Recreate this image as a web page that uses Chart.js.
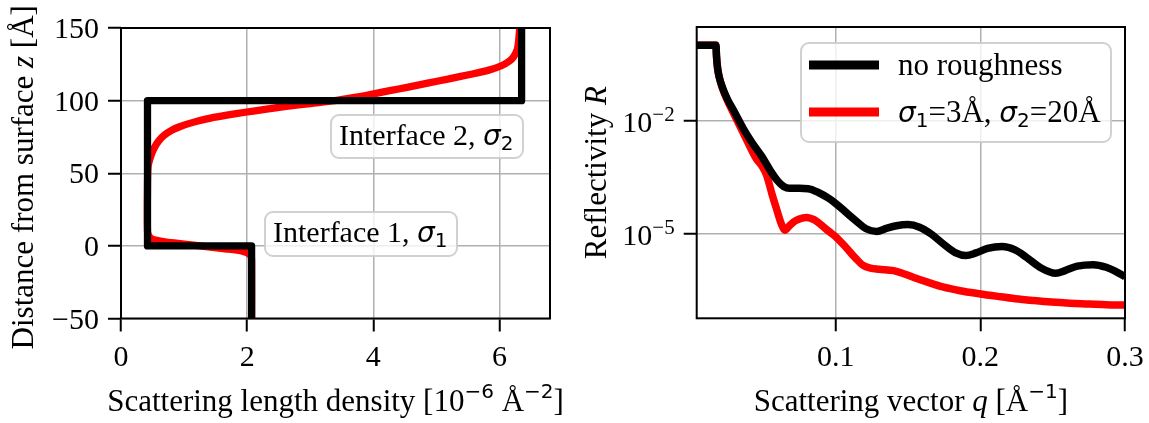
<!DOCTYPE html>
<html>
<head>
<meta charset="utf-8">
<script src="https://cdn.jsdelivr.net/npm/chart.js@4.4.1/dist/chart.umd.min.js"></script>
<style>
  body { margin: 0; background: #fff; }
  canvas { position: absolute; top: 0; }
  #left { left: 0; }
  #right { left: 575px; }
</style>
</head>
<body>
<canvas id="left" width="575" height="423"></canvas>
<canvas id="right" width="574" height="423"></canvas>
<script>
// ---- data: SLD profile (left panel) ----
const boxZ = [-50, 0, 0, 100, 100, 150];
const boxSld = [2.07, 2.07, 0.42, 0.42, 6.35, 6.35];

const roughZ = [-50, -10, -7, -5, -4, -3, -2, -1, 0, 1, 2, 3, 4, 5, 7, 10, 40, 55, 60, 65, 70, 74, 77, 80, 82, 84, 86, 88, 90, 92, 94, 96, 98, 100,
  102, 104, 106, 108, 110, 112, 115, 118, 121, 124, 127, 130, 135, 140, 150];
const roughSld = [2.07, 2.07, 2.06, 2.01, 1.95, 1.84, 1.65, 1.45, 1.25, 1.04, 0.84, 0.67, 0.55, 0.48, 0.44, 0.42, 0.42, 0.43, 0.46, 0.5, 0.56, 0.63, 0.71, 0.82, 0.93, 1.06, 1.22, 1.42, 1.68, 1.97, 2.28, 2.62, 3.0, 3.39,
  3.68, 3.93, 4.16, 4.4, 4.63, 4.86, 5.2, 5.53, 5.83, 6.03, 6.15, 6.22, 6.28, 6.3, 6.32];

// ---- data: reflectivity (right panel), values read as log10(R) ----
const qNoRough = [0.0039, 0.0172, 0.0176, 0.0183, 0.0195, 0.0215, 0.025, 0.030, 0.036, 0.042, 0.049, 0.055, 0.060, 0.064, 0.068, 0.075, 0.081, 0.088, 0.095, 0.100,
  0.107, 0.114, 0.121, 0.1284, 0.135, 0.142, 0.150, 0.158, 0.166, 0.175, 0.183, 0.190, 0.197, 0.205, 0.215, 0.224, 0.232, 0.242, 0.252, 0.259, 0.267, 0.278, 0.287, 0.294, 0.300];
const logRNoRough = [0, 0, -0.3, -0.6, -0.85, -1.1, -1.42, -1.77, -2.2, -2.57, -2.95, -3.33, -3.6, -3.74, -3.79, -3.79, -3.8, -3.9, -4.05, -4.19,
  -4.42, -4.65, -4.86, -4.93, -4.85, -4.78, -4.75, -4.82, -5.0, -5.28, -5.5, -5.57, -5.5, -5.38, -5.33, -5.42, -5.62, -5.9, -6.04, -5.96, -5.85, -5.81, -5.88, -6.0, -6.13];

const qRough = [0.0039, 0.0172, 0.0176, 0.0183, 0.0195, 0.0215, 0.025, 0.030, 0.0385, 0.045, 0.049, 0.0523, 0.056, 0.0592, 0.0627, 0.065, 0.068, 0.072, 0.0775, 0.080, 0.085, 0.090, 0.095, 0.100,
  0.107, 0.114, 0.119, 0.124, 0.130, 0.140, 0.147, 0.154, 0.164, 0.174, 0.186, 0.199, 0.212, 0.224, 0.237, 0.249, 0.262, 0.275, 0.287, 0.300];
const logRRough = [0, 0, -0.3, -0.6, -0.85, -1.12, -1.45, -1.85, -2.51, -3.0, -3.2, -3.45, -3.95, -4.35, -4.76, -4.9, -4.78, -4.65, -4.57, -4.56, -4.62, -4.76, -4.92, -5.07,
  -5.35, -5.65, -5.83, -5.9, -5.93, -5.97, -6.05, -6.15, -6.28, -6.4, -6.5, -6.58, -6.65, -6.71, -6.76, -6.8, -6.83, -6.85, -6.87, -6.88];

// ---- ticks ----
const sldTicks = [0, 2, 4, 6];
const zTicks = [-50, 0, 50, 100, 150];
const qTicks = [0.1, 0.2, 0.3];
const rTickExp = [-2, -5];

const SERIF = '"Liberation Serif", "DejaVu Serif", serif';
const F = '31px ' + SERIF;       // titles / legend
const FI = 'italic 31px ' + SERIF;
const FT = '30px ' + SERIF;      // tick labels / annotations
const FSUP = '21px ' + SERIF;
const SANS_SUP = '20px "DejaVu Sans"';
const SIGMA = 'italic 28px "DejaVu Sans"';

function rich(ctx, segs, x, y, align) {
  let w = 0;
  segs.forEach(s => { ctx.font = s[1]; w += ctx.measureText(s[0]).width; });
  let cx = align === 'center' ? x - w / 2 : (align === 'right' ? x - w : x);
  ctx.textAlign = 'left';
  ctx.textBaseline = 'alphabetic';
  segs.forEach(s => {
    ctx.font = s[1];
    ctx.fillText(s[0], cx, y + (s[2] || 0));
    cx += ctx.measureText(s[0]).width;
  });
  return w;
}

function roundBox(ctx, x, y, w, h, r) {
  ctx.beginPath();
  ctx.roundRect(x, y, w, h, r);
  ctx.fillStyle = 'rgba(255,255,255,0.8)';
  ctx.fill();
  ctx.strokeStyle = 'rgba(204,204,204,0.9)';
  ctx.lineWidth = 2;
  ctx.stroke();
}

function frame(ctx, a) {
  ctx.strokeStyle = '#000';
  ctx.lineWidth = 2;
  ctx.strokeRect(a.left, a.top, a.right - a.left, a.bottom - a.top);
}

const gridOpts = { color: '#b0b0b0', lineWidth: 1.5, tickLength: 13, tickColor: '#000', tickWidth: 2 };

// left panel decorations
const leftDeco = {
  id: 'leftDeco',
  afterDraw(chart) {
    const ctx = chart.ctx, a = chart.chartArea;
    const sx = chart.scales.x, sy = chart.scales.y;
    ctx.save();
    frame(ctx, a);
    ctx.fillStyle = '#000';
    sldTicks.forEach(v => rich(ctx, [[String(v), FT]], sx.getPixelForValue(v), 366, 'center'));
    zTicks.forEach(v => rich(ctx, [[String(v).replace('-', '\u2212'), FT]], a.left - 22, sy.getPixelForValue(v) + 10, 'right'));

    rich(ctx, [['Scattering length density [10', F], ['\u22126', SANS_SUP, -13], [' \u00c5', F], ['\u22122', SANS_SUP, -13], [']', F]],
      (a.left + a.right) / 2, 411, 'center');
    ctx.save();
    ctx.translate(33, (a.top + a.bottom) / 2 + 4);
    ctx.rotate(-Math.PI / 2);
    ctx.fillStyle = '#000';
    rich(ctx, [['Distance from surface ', F], ['z', FI], [' [\u00c5]', F]], 0, 0, 'center');
    ctx.restore();

    roundBox(ctx, 331, 115, 192, 43, 8);
    ctx.fillStyle = '#000';
    rich(ctx, [['Interface 2, ', FT], ['\u03c3', SIGMA], ['2', SANS_SUP, 5]], 339, 145, 'left');
    roundBox(ctx, 265, 212, 192, 44, 8);
    ctx.fillStyle = '#000';
    rich(ctx, [['Interface 1, ', FT], ['\u03c3', SIGMA], ['1', SANS_SUP, 5]], 273, 242, 'left');
    ctx.restore();
  }
};

// right panel decorations
const rightDeco = {
  id: 'rightDeco',
  afterDraw(chart) {
    const ctx = chart.ctx, a = chart.chartArea;
    const sx = chart.scales.x, sy = chart.scales.y;
    ctx.save();
    frame(ctx, a);
    ctx.fillStyle = '#000';
    qTicks.forEach(v => rich(ctx, [[String(v), FT]], sx.getPixelForValue(v), 366, 'center'));
    rTickExp.forEach(e => rich(ctx, [['10', FT], ['\u2212' + Math.abs(e), FSUP, -11]], a.left - 22, sy.getPixelForValue(Math.pow(10, e)) + 11, 'right'));

    rich(ctx, [['Scattering vector ', F], ['q', FI], [' [\u00c5', F], ['\u22121', SANS_SUP, -13], [']', F]],
      (a.left + a.right) / 2, 411, 'center');
    ctx.save();
    ctx.translate(31, (a.top + a.bottom) / 2);
    ctx.rotate(-Math.PI / 2);
    ctx.fillStyle = '#000';
    rich(ctx, [['Reflectivity ', F], ['R', FI]], 0, 0, 'center');
    ctx.restore();

    // legend
    roundBox(ctx, 226, 43, 310, 99, 8);
    ctx.lineCap = 'butt';
    ctx.lineWidth = 9;
    ctx.strokeStyle = '#000';
    ctx.beginPath(); ctx.moveTo(234, 65); ctx.lineTo(304, 65); ctx.stroke();
    ctx.strokeStyle = '#ff0000';
    ctx.beginPath(); ctx.moveTo(234, 112); ctx.lineTo(304, 112); ctx.stroke();
    ctx.fillStyle = '#000';
    rich(ctx, [['no roughness', F]], 323, 75, 'left');
    rich(ctx, [['\u03c3', SIGMA], ['1', SANS_SUP, 5], ['=3\u00c5, ', F], ['\u03c3', SIGMA], ['2', SANS_SUP, 5], ['=20\u00c5', F]], 323, 122, 'left');
    ctx.restore();
  }
};

function pts(xs, ys) { return xs.map((x, i) => ({ x: x, y: ys[i] })); }

new Chart(document.getElementById('left'), {
  type: 'scatter',
  data: {
    datasets: [
      { data: pts(boxSld, boxZ), showLine: true, borderColor: '#000', borderWidth: 7.3, pointRadius: 0, tension: 0, borderJoinStyle: 'round' },
      { data: pts(roughSld, roughZ), showLine: true, borderColor: '#ff0000', borderWidth: 7.3, pointRadius: 0, tension: 0.3 }
    ]
  },
  options: {
    responsive: false,
    animation: false,
    layout: { padding: { left: 0, right: 25, top: 28, bottom: 0 } },
    plugins: { legend: { display: false }, tooltip: { enabled: false } },
    scales: {
      x: {
        type: 'linear', min: 0, max: 6.8,
        afterBuildTicks: s => { s.ticks = sldTicks.map(v => ({ value: v })); },
        afterFit: s => { s.height = 104.5; },
        ticks: { display: false }, grid: gridOpts, border: { display: false }
      },
      y: {
        type: 'linear', min: -50, max: 150,
        afterBuildTicks: s => { s.ticks = zTicks.map(v => ({ value: v })); },
        afterFit: s => { s.width = 121; },
        ticks: { display: false }, grid: gridOpts, border: { display: false }
      }
    }
  },
  plugins: [leftDeco]
});

new Chart(document.getElementById('right'), {
  type: 'scatter',
  data: {
    datasets: [
      { data: pts(qNoRough, logRNoRough.map(v => Math.pow(10, v))), showLine: true, borderColor: '#000', borderWidth: 7.5, pointRadius: 0, cubicInterpolationMode: 'monotone', borderJoinStyle: 'round' },
      { data: pts(qRough, logRRough.map(v => Math.pow(10, v))), showLine: true, borderColor: '#ff0000', borderWidth: 7.5, pointRadius: 0, cubicInterpolationMode: 'monotone', borderJoinStyle: 'round' }
    ]
  },
  options: {
    responsive: false,
    animation: false,
    layout: { padding: { left: 0, right: 24, top: 27, bottom: 0 } },
    plugins: { legend: { display: false }, tooltip: { enabled: false } },
    scales: {
      x: {
        type: 'linear', min: 0.0039, max: 0.3,
        afterBuildTicks: s => { s.ticks = qTicks.map(v => ({ value: v })); },
        afterFit: s => { s.height = 104.7; },
        ticks: { display: false }, grid: gridOpts, border: { display: false }
      },
      y: {
        type: 'logarithmic', min: Math.pow(10, -7.23), max: Math.pow(10, 0.48),
        afterBuildTicks: s => { s.ticks = rTickExp.map(e => ({ value: Math.pow(10, e) })); },
        afterFit: s => { s.width = 121.7; },
        ticks: { display: false }, grid: gridOpts, border: { display: false }
      }
    }
  },
  plugins: [rightDeco]
});
</script>
</body>
</html>
